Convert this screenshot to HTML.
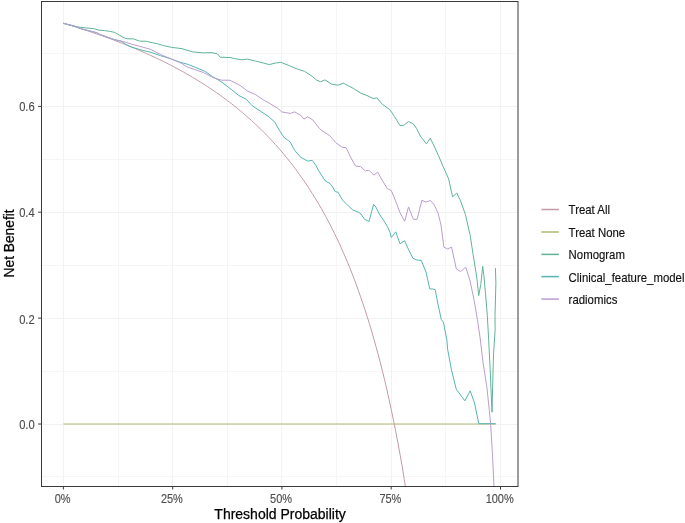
<!DOCTYPE html>
<html><head><meta charset="utf-8"><style>
html,body{margin:0;padding:0;background:#fff;width:685px;height:523px;overflow:hidden}
svg{display:block;will-change:transform;font-family:"Liberation Sans",sans-serif}
</style></head><body>

<svg width="685" height="523" viewBox="0 0 685 523">
<defs><clipPath id="cp"><rect x="41.5" y="1.5" width="476.5" height="485.0"/></clipPath></defs>
<g clip-path="url(#cp)">
<line x1="118.5" y1="1.5" x2="118.5" y2="486.5" stroke="#F6F6F6" stroke-width="1"/>
<line x1="227.5" y1="1.5" x2="227.5" y2="486.5" stroke="#F6F6F6" stroke-width="1"/>
<line x1="336.5" y1="1.5" x2="336.5" y2="486.5" stroke="#F6F6F6" stroke-width="1"/>
<line x1="445.5" y1="1.5" x2="445.5" y2="486.5" stroke="#F6F6F6" stroke-width="1"/>
<line x1="41.5" y1="476.5" x2="518.0" y2="476.5" stroke="#F6F6F6" stroke-width="1"/>
<line x1="41.5" y1="371.5" x2="518.0" y2="371.5" stroke="#F6F6F6" stroke-width="1"/>
<line x1="41.5" y1="265.5" x2="518.0" y2="265.5" stroke="#F6F6F6" stroke-width="1"/>
<line x1="41.5" y1="159.5" x2="518.0" y2="159.5" stroke="#F6F6F6" stroke-width="1"/>
<line x1="41.5" y1="53.5" x2="518.0" y2="53.5" stroke="#F6F6F6" stroke-width="1"/>
<line x1="63.5" y1="1.5" x2="63.5" y2="486.5" stroke="#F2F2F2" stroke-width="1"/>
<line x1="172.5" y1="1.5" x2="172.5" y2="486.5" stroke="#F2F2F2" stroke-width="1"/>
<line x1="281.5" y1="1.5" x2="281.5" y2="486.5" stroke="#F2F2F2" stroke-width="1"/>
<line x1="391.5" y1="1.5" x2="391.5" y2="486.5" stroke="#F2F2F2" stroke-width="1"/>
<line x1="500.5" y1="1.5" x2="500.5" y2="486.5" stroke="#F2F2F2" stroke-width="1"/>
<line x1="41.5" y1="424.5" x2="518.0" y2="424.5" stroke="#F2F2F2" stroke-width="1"/>
<line x1="41.5" y1="318.5" x2="518.0" y2="318.5" stroke="#F2F2F2" stroke-width="1"/>
<line x1="41.5" y1="212.5" x2="518.0" y2="212.5" stroke="#F2F2F2" stroke-width="1"/>
<line x1="41.5" y1="106.5" x2="518.0" y2="106.5" stroke="#F2F2F2" stroke-width="1"/>
<line x1="63.4" y1="424.0" x2="496.1" y2="424.0" stroke="#B2B872" stroke-width="1.0"/>
<polyline points="63.4,23.3 65.6,23.9 67.8,24.6 70.0,25.3 72.1,25.9 74.3,26.6 76.5,27.3 78.7,28.0 80.9,28.7 83.1,29.4 85.3,30.1 87.4,30.8 89.6,31.5 91.8,32.2 94.0,33.0 96.2,33.7 98.4,34.5 100.6,35.3 102.7,36.0 104.9,36.8 107.1,37.6 109.3,38.4 111.5,39.2 113.7,40.0 115.9,40.9 118.0,41.7 120.2,42.5 122.4,43.4 124.6,44.3 126.8,45.1 129.0,46.0 131.2,46.9 133.3,47.8 135.5,48.7 137.7,49.7 139.9,50.6 142.1,51.6 144.3,52.5 146.4,53.5 148.6,54.5 150.8,55.5 153.0,56.5 155.2,57.5 157.4,58.5 159.6,59.6 161.7,60.7 163.9,61.7 166.1,62.8 168.3,63.9 170.5,65.1 172.7,66.2 174.9,67.4 177.0,68.5 179.2,69.7 181.4,70.9 183.6,72.1 185.8,73.4 188.0,74.6 190.2,75.9 192.3,77.2 194.5,78.5 196.7,79.8 198.9,81.1 201.1,82.5 203.3,83.9 205.5,85.3 207.6,86.7 209.8,88.1 212.0,89.6 214.2,91.1 216.4,92.6 218.6,94.1 220.8,95.7 222.9,97.3 225.1,98.9 227.3,100.5 229.5,102.2 231.7,103.9 233.9,105.6 236.1,107.3 238.2,109.1 240.4,110.9 242.6,112.7 244.8,114.6 247.0,116.5 249.2,118.4 251.4,120.4 253.5,122.4 255.7,124.4 257.9,126.5 260.1,128.6 262.3,130.7 264.5,132.9 266.7,135.2 268.8,137.4 271.0,139.7 273.2,142.1 275.4,144.5 277.6,147.0 279.8,149.5 282.0,152.0 284.1,154.6 286.3,157.3 288.5,160.0 290.7,162.7 292.9,165.5 295.1,168.4 297.2,171.4 299.4,174.4 301.6,177.5 303.8,180.6 306.0,183.8 308.2,187.1 310.4,190.5 312.5,193.9 314.7,197.4 316.9,201.0 319.1,204.7 321.3,208.5 323.5,212.4 325.7,216.4 327.8,220.4 330.0,224.6 332.2,228.9 334.4,233.3 336.6,237.8 338.8,242.4 341.0,247.2 343.1,252.1 345.3,257.1 347.5,262.3 349.7,267.6 351.9,273.1 354.1,278.8 356.3,284.6 358.4,290.6 360.6,296.8 362.8,303.2 365.0,309.8 367.2,316.6 369.4,323.6 371.6,330.9 373.7,338.4 375.9,346.2 378.1,354.2 380.3,362.6 382.5,371.3 384.7,380.3 386.9,389.6 389.0,399.3 391.2,409.4 393.4,419.9 395.6,430.9 397.8,442.3 400.0,454.2 402.2,466.6 404.3,479.6 406.5,493.2" fill="none" stroke="#C29AA8" stroke-width="1.0"/>
<polyline points="63.3,23.3 75.3,26.4 79.0,27.1 85.5,27.9 93.6,28.6 98.0,30.0 104.4,30.6 109.5,31.3 114.6,32.4 119.0,34.9 124.1,37.9 127.7,38.8 133.6,38.9 139.4,41.1 146.7,41.3 150.0,42.2 157.5,43.8 163.6,45.7 171.3,47.3 182.0,48.7 192.7,51.9 203.4,52.9 211.0,52.6 217.2,53.7 220.2,57.2 230.0,57.5 234.2,58.5 241.8,59.8 247.2,59.1 255.6,61.1 263.2,63.0 269.3,64.6 275.5,63.0 280.8,62.3 289.2,65.6 298.4,69.5 304.5,71.3 312.2,76.3 316.7,80.2 320.6,81.7 324.9,79.9 331.8,84.2 337.9,85.2 343.3,83.2 353.2,88.3 360.9,93.3 367.0,95.5 373.1,98.5 376.9,97.9 382.3,104.3 389.9,109.7 394.5,116.6 399.9,125.4 403.7,125.4 408.5,121.5 413.4,124.1 416.5,128.3 420.3,136.0 426.4,143.9 430.2,138.3 434.1,145.9 438.6,155.9 443.2,166.6 448.6,178.8 452.6,196.8 456.8,193.0 460.6,201.1 465.4,214.4 470.2,235.5 473.1,254.6 475.9,271.9 477.0,279.2 478.7,295.6 480.8,284.4 482.7,266.3 483.9,275.8 485.6,294.7 487.3,315.4 488.7,340.0 490.1,368.2 492.0,412.2 492.6,387.4 493.5,354.9 495.1,330.0 495.0,315.4 495.9,282.7 495.4,268.1" fill="none" stroke="#60B39A" stroke-width="1.0" stroke-linejoin="round"/>
<polyline points="63.3,23.3 75.3,26.4 81.9,29.0 89.2,30.8 96.5,32.6 100.0,34.6 107.3,37.1 114.6,39.7 121.2,41.1 125.5,44.1 129.2,46.2 135.0,48.1 140.9,49.9 150.0,52.1 160.6,55.7 171.3,59.0 180.5,62.4 188.1,64.4 195.7,67.5 204.9,71.3 212.6,76.6 221.7,82.0 225.0,84.6 231.1,89.3 238.8,95.5 246.4,99.3 251.8,105.4 255.0,107.6 261.1,111.5 268.8,116.8 274.9,122.2 279.5,130.6 284.0,137.4 290.2,142.0 294.7,150.4 300.8,157.3 307.7,161.1 312.3,160.4 316.1,165.7 318.4,170.3 325.1,180.8 330.0,183.6 332.3,186.5 335.2,191.6 338.0,192.2 342.6,200.2 347.2,204.8 352.9,210.0 358.7,212.3 361.0,214.0 364.4,219.2 369.0,221.5 371.3,212.9 373.6,204.3 375.9,207.1 379.3,214.0 383.9,220.9 387.4,226.6 390.0,232.4 391.3,237.5 395.7,231.8 400.0,243.8 404.6,240.8 408.4,249.2 413.0,258.4 416.8,259.9 421.4,260.7 426.0,272.1 429.8,289.0 432.9,289.0 435.2,289.7 438.3,305.8 441.3,319.6 443.4,322.2 446.9,340.0 447.6,349.1 451.5,370.2 456.3,389.3 464.9,400.8 470.2,390.8 474.4,402.7 478.8,423.7 495.5,423.7" fill="none" stroke="#55B5B2" stroke-width="1.0" stroke-linejoin="round"/>
<polyline points="63.3,23.3 75.3,26.4 81.9,29.0 89.2,30.8 96.5,32.6 100.0,34.6 107.3,37.1 114.6,39.7 121.2,41.1 125.5,42.2 131.4,44.1 139.4,46.2 149.9,49.1 160.6,54.5 171.3,59.0 182.0,63.6 186.6,66.7 194.2,69.4 203.4,72.5 212.6,77.4 221.7,80.2 230.0,80.2 231.1,80.9 240.3,85.5 247.2,90.9 255.6,94.7 263.5,100.0 270.3,103.8 277.9,108.4 281.7,111.9 290.2,113.4 294.7,111.9 300.8,115.3 303.9,119.1 307.7,116.8 312.9,120.0 319.2,128.3 321.3,130.1 329.9,135.8 335.6,142.5 342.3,147.3 346.1,147.7 350.9,157.8 355.7,166.1 360.5,166.5 365.3,170.9 369.1,170.3 373.9,175.1 377.7,172.2 382.7,181.1 387.4,188.7 391.3,190.6 396.1,202.1 399.9,212.6 404.7,221.2 408.5,206.9 413.3,219.3 417.1,219.3 421.9,200.2 425.7,202.1 430.5,200.6 434.3,205.0 438.2,213.6 441.0,225.1 443.9,247.1 447.7,249.0 451.6,247.1 456.3,268.9 460.6,271.5 465.8,267.2 470.1,281.0 474.4,301.6 477.8,322.2 480.4,340.0 483.0,362.5 486.9,387.4 489.3,410.3 490.6,423.2 492.3,451.6 493.9,484.2 494.6,500.0" fill="none" stroke="#BB9DD0" stroke-width="1.0" stroke-linejoin="round"/>
</g>
<rect x="41.5" y="1.5" width="476.5" height="485.0" fill="none" stroke="#3A3A3A" stroke-width="1"/>
<line x1="38.1" y1="424.0" x2="41.5" y2="424.0" stroke="#3A3A3A" stroke-width="1"/>
<text transform="translate(34.7,428.70) scale(1,1.1)" text-anchor="end" font-size="11.2" fill="#4D4D4D" stroke="#4D4D4D" stroke-width="0.12">0.0</text>
<line x1="38.1" y1="318.1" x2="41.5" y2="318.1" stroke="#3A3A3A" stroke-width="1"/>
<text transform="translate(34.7,323.62) scale(1,1.1)" text-anchor="end" font-size="11.2" fill="#4D4D4D" stroke="#4D4D4D" stroke-width="0.12">0.2</text>
<line x1="38.1" y1="212.2" x2="41.5" y2="212.2" stroke="#3A3A3A" stroke-width="1"/>
<text transform="translate(34.7,217.44) scale(1,1.1)" text-anchor="end" font-size="11.2" fill="#4D4D4D" stroke="#4D4D4D" stroke-width="0.12">0.4</text>
<line x1="38.1" y1="106.4" x2="41.5" y2="106.4" stroke="#3A3A3A" stroke-width="1"/>
<text transform="translate(34.7,111.06) scale(1,1.1)" text-anchor="end" font-size="11.2" fill="#4D4D4D" stroke="#4D4D4D" stroke-width="0.12">0.6</text>
<line x1="63.4" y1="486.5" x2="63.4" y2="489.5" stroke="#3A3A3A" stroke-width="1"/>
<text transform="translate(62.6,502.60) scale(1,1.12)" text-anchor="middle" font-size="11" fill="#4D4D4D" stroke="#4D4D4D" stroke-width="0.12">0%</text>
<line x1="172.7" y1="486.5" x2="172.7" y2="489.5" stroke="#3A3A3A" stroke-width="1"/>
<text transform="translate(171.9,502.60) scale(1,1.12)" text-anchor="middle" font-size="11" fill="#4D4D4D" stroke="#4D4D4D" stroke-width="0.12">25%</text>
<line x1="281.9" y1="486.5" x2="281.9" y2="489.5" stroke="#3A3A3A" stroke-width="1"/>
<text transform="translate(281.1,502.60) scale(1,1.12)" text-anchor="middle" font-size="11" fill="#4D4D4D" stroke="#4D4D4D" stroke-width="0.12">50%</text>
<line x1="391.2" y1="486.5" x2="391.2" y2="489.5" stroke="#3A3A3A" stroke-width="1"/>
<text transform="translate(390.4,502.60) scale(1,1.12)" text-anchor="middle" font-size="11" fill="#4D4D4D" stroke="#4D4D4D" stroke-width="0.12">75%</text>
<line x1="500.5" y1="486.5" x2="500.5" y2="489.5" stroke="#3A3A3A" stroke-width="1"/>
<text transform="translate(499.7,502.60) scale(1,1.12)" text-anchor="middle" font-size="11" fill="#4D4D4D" stroke="#4D4D4D" stroke-width="0.12">100%</text>
<text x="280.1" y="518.5" text-anchor="middle" font-size="14" fill="#000" stroke="#000" stroke-width="0.25">Threshold Probability</text>
<text transform="translate(14.2,243.4) rotate(-90)" text-anchor="middle" font-size="13.75" fill="#000" stroke="#000" stroke-width="0.25">Net Benefit</text>
<line x1="541.4" y1="209.5" x2="558.9" y2="209.5" stroke="#C29AA8" stroke-width="1.5"/>
<text transform="translate(568.6,214.40) scale(1,1.1)" font-size="11.4" fill="#111" stroke="#111" stroke-width="0.15">Treat All</text>
<line x1="541.4" y1="232.0" x2="558.9" y2="232.0" stroke="#B2B872" stroke-width="1.5"/>
<text transform="translate(568.6,236.90) scale(1,1.1)" font-size="11.4" fill="#111" stroke="#111" stroke-width="0.15">Treat None</text>
<line x1="541.4" y1="254.4" x2="558.9" y2="254.4" stroke="#60B39A" stroke-width="1.5"/>
<text transform="translate(568.6,259.30) scale(1,1.1)" font-size="11.4" fill="#111" stroke="#111" stroke-width="0.15">Nomogram</text>
<line x1="541.4" y1="276.6" x2="558.9" y2="276.6" stroke="#55B5B2" stroke-width="1.5"/>
<text transform="translate(568.6,281.50) scale(1,1.1)" font-size="11.4" fill="#111" stroke="#111" stroke-width="0.15">Clinical_feature_model</text>
<line x1="541.4" y1="299.1" x2="558.9" y2="299.1" stroke="#BB9DD0" stroke-width="1.5"/>
<text transform="translate(568.6,304.00) scale(1,1.1)" font-size="11.4" fill="#111" stroke="#111" stroke-width="0.15">radiomics</text>
</svg>
</body></html>
